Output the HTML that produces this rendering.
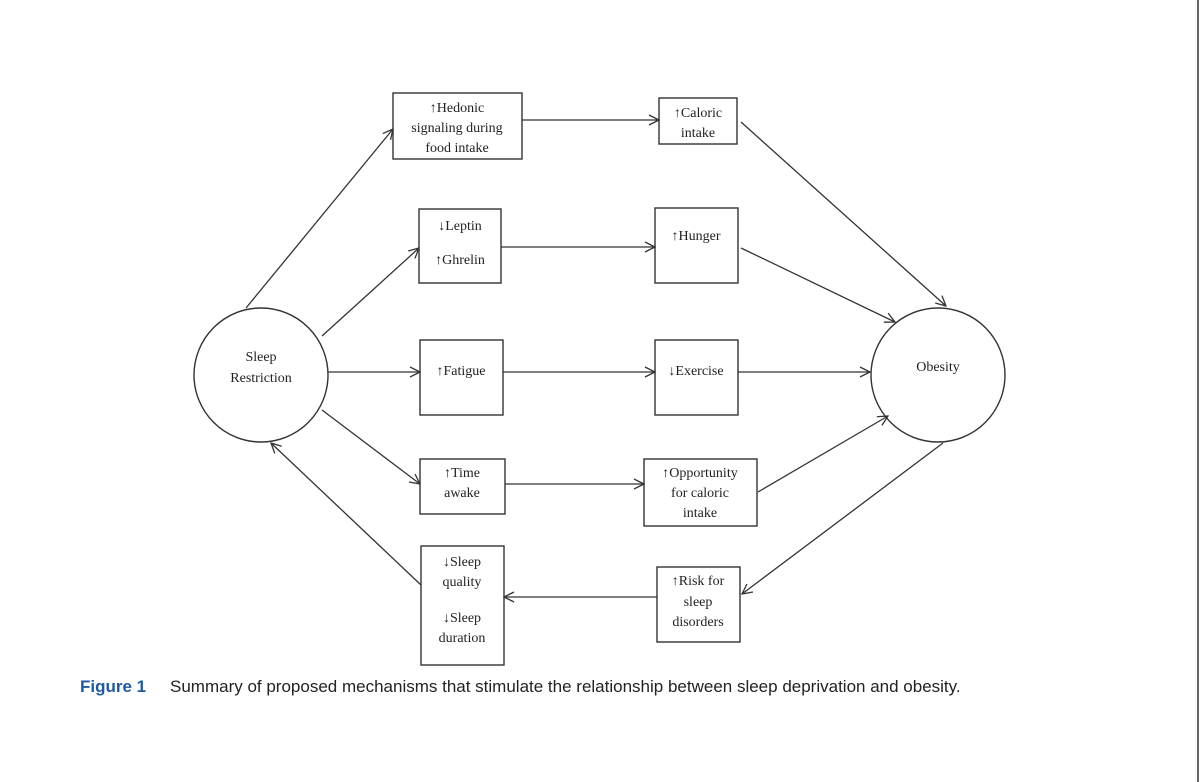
<!DOCTYPE html>
<html><head><meta charset="utf-8">
<style>
html,body{margin:0;padding:0;background:#fff;}
body{width:1200px;height:782px;overflow:hidden;position:relative;}
svg{position:absolute;left:0;top:0;}
.t{font-family:"Liberation Serif",serif;font-size:14px;fill:#222;text-anchor:middle;}
.cap{font-family:"Liberation Sans",Arial,sans-serif;font-size:17px;fill:#222;}
</style></head>
<body>
<svg width="1200" height="782" viewBox="0 0 1200 782" xmlns="http://www.w3.org/2000/svg">
<defs>
<marker id="a" viewBox="0 0 12 12" refX="11" refY="6" markerWidth="12" markerHeight="12" markerUnits="userSpaceOnUse" orient="auto">
<path d="M1,1 L11,6 L1,11" fill="none" stroke="#333" stroke-width="1.3"/>
</marker>
</defs>
<line x1="1198" y1="0" x2="1198" y2="782" stroke="#000" stroke-width="1.2"/>
<g fill="none" stroke="#333" stroke-width="1.4">
<circle cx="261" cy="375" r="67"/>
<circle cx="938" cy="375" r="67"/>
<rect x="393" y="93" width="129" height="66"/>
<rect x="659" y="98" width="78" height="46"/>
<rect x="419" y="209" width="82" height="74"/>
<rect x="655" y="208" width="83" height="75"/>
<rect x="420" y="340" width="83" height="75"/>
<rect x="655" y="340" width="83" height="75"/>
<rect x="420" y="459" width="85" height="55"/>
<rect x="644" y="459" width="113" height="67"/>
<rect x="421" y="546" width="83" height="119"/>
<rect x="657" y="567" width="83" height="75"/>
</g>
<g stroke="#333" stroke-width="1.3" marker-end="url(#a)">
<line x1="246" y1="308" x2="393" y2="129"/>
<line x1="322" y1="336" x2="419" y2="248"/>
<line x1="328" y1="372" x2="420" y2="372"/>
<line x1="322" y1="410" x2="420" y2="484"/>
<line x1="421" y1="585" x2="271" y2="443"/>
<line x1="522" y1="120" x2="659" y2="120"/>
<line x1="501" y1="247" x2="655" y2="247"/>
<line x1="503" y1="372" x2="655" y2="372"/>
<line x1="505" y1="484" x2="644" y2="484"/>
<line x1="657" y1="597" x2="504" y2="597"/>
<line x1="741" y1="122" x2="946" y2="306"/>
<line x1="741" y1="248" x2="895" y2="322"/>
<line x1="738" y1="372" x2="870" y2="372"/>
<line x1="758" y1="492" x2="888" y2="416"/>
<line x1="943" y1="443" x2="742" y2="594"/>
</g>
<g class="t">
<text x="261" y="361">Sleep</text>
<text x="261" y="382">Restriction</text>
<text x="938" y="371">Obesity</text>
<text x="457" y="112">↑Hedonic</text>
<text x="457" y="132">signaling during</text>
<text x="457" y="152">food intake</text>
<text x="698" y="117">↑Caloric</text>
<text x="698" y="137">intake</text>
<text x="460" y="230">↓Leptin</text>
<text x="460" y="264">↑Ghrelin</text>
<text x="696" y="240">↑Hunger</text>
<text x="461" y="375">↑Fatigue</text>
<text x="696" y="375">↓Exercise</text>
<text x="462" y="477">↑Time</text>
<text x="462" y="497">awake</text>
<text x="700" y="477">↑Opportunity</text>
<text x="700" y="497">for caloric</text>
<text x="700" y="517">intake</text>
<text x="462" y="566">↓Sleep</text>
<text x="462" y="586">quality</text>
<text x="462" y="622">↓Sleep</text>
<text x="462" y="642">duration</text>
<text x="698" y="585">↑Risk for</text>
<text x="698" y="606">sleep</text>
<text x="698" y="626">disorders</text>
</g>
<text x="80" y="692" class="cap" style="font-weight:bold;fill:#1f5aa0;">Figure 1</text>
<text x="170" y="692" class="cap">Summary of proposed mechanisms that stimulate the relationship between sleep deprivation and obesity.</text>
</svg>
</body></html>
